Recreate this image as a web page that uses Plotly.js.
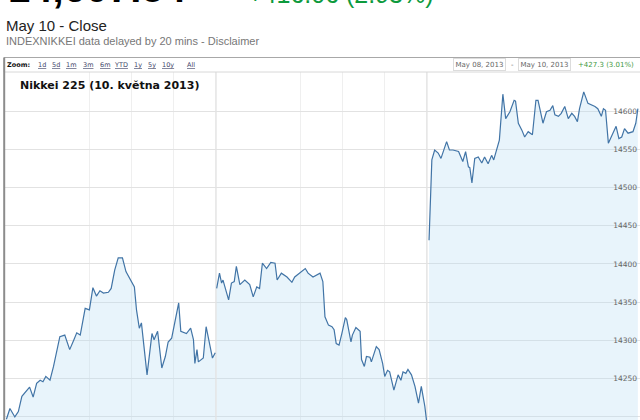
<!DOCTYPE html>
<html>
<head>
<meta charset="utf-8">
<script src="https://cdn.plot.ly/plotly-3.0.1.min.js"></script>
<style>html,body{margin:0;padding:0;background:#fff;}#chart{width:640px;height:420px;}</style>
</head>
<body>
<div id="chart"></div>
<script>
// ---- data (trading minutes from open, index value) ----
const dayLabels = ["May 08", "May 09", "May 10"];
const day1Min = [2,7,14,19,24,28,35,40,45,50,54,58,64,69,73,78,85,92,98,102,107,111,114,120,125,130,135,140,147,151,156,161,167,172,178,184,187,191,194,198,202,209,212,217,223,228,232,237,242,247,250,258,264,268,270,273,275,280,282,286,291,295,299];
const day1Val = [14197,14211,14200,14207,14227,14231,14239,14226,14244,14248,14246,14253,14248,14266,14283,14305,14307,14288,14301,14310,14307,14327,14342,14340,14369,14358,14365,14362,14363,14368,14392,14408,14408,14390,14379,14370,14340,14316,14323,14288,14255,14309,14301,14312,14264,14279,14298,14303,14325,14349,14312,14309,14316,14301,14270,14288,14272,14275,14277,14318,14296,14277,14284];
const day2Min = [1,5,8,10,18,22,26,29,34,41,48,53,58,62,66,72,78,84,87,93,101,108,112,119,127,131,138,148,152,155,160,165,168,171,175,179,184,186,192,194,199,205,207,211,214,219,221,228,232,237,240,244,247,253,259,263,266,270,273,278,283,288,292,297,300];
const day2Val = [14368,14388,14375,14379,14353,14375,14377,14397,14373,14379,14373,14357,14370,14368,14401,14394,14402,14401,14379,14388,14383,14376,14383,14388,14394,14388,14383,14388,14377,14331,14320,14318,14314,14296,14294,14309,14330,14327,14298,14307,14317,14312,14275,14266,14279,14278,14272,14292,14288,14270,14253,14261,14259,14235,14255,14248,14259,14257,14262,14255,14240,14218,14240,14214,14191];
const day3Min = [3,7,11,16,20,23,28,32,37,45,51,55,59,61,64,68,73,78,82,87,92,95,99,103,108,112,118,124,126,130,135,139,144,150,155,158,165,170,175,179,182,187,191,196,201,206,210,214,217,223,229,234,239,243,248,251,254,258,263,269,273,277,281,286,293,297,300];
const day3Val = [14431,14536,14549,14545,14538,14546,14560,14549,14549,14547,14534,14547,14527,14526,14506,14538,14540,14532,14540,14531,14542,14536,14551,14562,14622,14590,14599,14614,14613,14584,14575,14566,14573,14569,14614,14614,14584,14599,14601,14607,14595,14593,14597,14606,14590,14597,14593,14586,14603,14625,14610,14608,14606,14603,14593,14603,14601,14558,14569,14580,14564,14566,14577,14571,14573,14584,14603];
const yTicks = [14200,14250,14300,14350,14400,14450,14500,14550,14600,14650];
const yTickText = ["14200","14250","14300","14350","14400","14450","14500","14550","14600","14650"];
const zoomLinks = ["1d","5d","1m","3m","6m","YTD","1y","5y","10y","All"];
const headPrice = "14,607.54";
const headChange = "+416.06 (2.93%)";
const rangeFrom = "May 08, 2013", rangeTo = "May 10, 2013", rangeChange = "+427.3 (3.01%)";
const chartTitle = "Nikkei 225 (10. května 2013)";

// ---- build ----
const HOURS_PER_DAY = 5;
const days = [[day1Min, day1Val],[day2Min, day2Val],[day3Min, day3Val]];
const traces = days.map((d, i) => ({
  type: 'scatter', mode: 'lines', name: dayLabels[i],
  x: d[0].map(m => i * HOURS_PER_DAY + m / 60),
  y: d[1],
  line: {color: '#4174a6', width: 1.2},
  fill: 'tozeroy', fillcolor: 'rgba(178,218,243,0.30)',
  hoverinfo: 'skip'
}));

const L = 5, W = 635, T = 72, H = 348;
const px = v => (v - L) / W;          // pixel x -> paper x
const py = v => (420 - v) / H;        // pixel y -> paper y

const ann = [];
function A(o) { ann.push(Object.assign({xref: 'paper', yref: 'paper', showarrow: false, yanchor: 'middle'}, o)); }
A({text: '<b>' + headPrice + '</b>', x: px(6), y: py(-12), xanchor: 'left',
  font: {family: 'Liberation Sans, Arial', size: 40, color: '#000'}});
A({text: headChange, x: px(246), y: py(-6), xanchor: 'left',
  font: {family: 'Liberation Sans, Arial', size: 25, color: '#0d9a3c'}});
A({text: 'May 10 - Close', x: px(4), y: py(25), xanchor: 'left',
  font: {family: 'Liberation Sans, Arial', size: 15, color: '#222'}});
A({text: 'INDEXNIKKEI data delayed by 20 mins - Disclaimer', x: px(4), y: py(40.5), xanchor: 'left',
  font: {family: 'Liberation Sans, Arial', size: 11, color: '#777'}});
A({text: '<b>Zoom:</b>', x: px(18.5), y: py(65), xanchor: 'center',
  font: {family: 'DejaVu Sans', size: 6.5, color: '#111'}});
const linkCenters = [42,56,70.5,88,105,121,137.5,151.5,168,190.5];
zoomLinks.forEach((t, i) => A({text: '<u>' + t + '</u>', x: px(linkCenters[i]), y: py(65), xanchor: 'center',
  font: {family: 'DejaVu Sans', size: 6.5, color: '#44476a'}}));
A({text: rangeFrom, x: px(479.5), y: py(65), xanchor: 'center', bordercolor: '#dcdcdc', borderwidth: 1, borderpad: 1.5, bgcolor: '#fff',
  font: {family: 'DejaVu Sans', size: 7, color: '#666'}});
A({text: '-', x: px(512), y: py(65), xanchor: 'center',
  font: {family: 'DejaVu Sans', size: 7, color: '#666'}});
A({text: rangeTo, x: px(544.5), y: py(65), xanchor: 'center', bordercolor: '#dcdcdc', borderwidth: 1, borderpad: 1.5, bgcolor: '#fff',
  font: {family: 'DejaVu Sans', size: 7, color: '#666'}});
A({text: rangeChange, x: px(606), y: py(65), xanchor: 'center',
  font: {family: 'DejaVu Sans', size: 7, color: '#3f9a3f'}});
A({text: '<b>' + chartTitle + '</b>', x: px(18), y: py(85.5), xanchor: 'left',
  font: {family: 'DejaVu Sans', size: 11, color: '#111'}});

const shapes = [];
[1, 2].forEach(i => shapes.push({type: 'line', xref: 'x', yref: 'paper', x0: i * HOURS_PER_DAY, x1: i * HOURS_PER_DAY, y0: 0, y1: 1,
  line: {color: '#d6d6d6', width: 1}, layer: 'below'}));
shapes.push({type: 'rect', xref: 'paper', yref: 'paper', x0: px(4), x1: px(642), y0: py(72), y1: py(57.5),
  fillcolor: '#fff', line: {color: '#d8d8d8', width: 1}, layer: 'above'});
shapes.push({type: 'line', xref: 'paper', yref: 'paper', x0: px(4), x1: px(642), y0: py(57.5), y1: py(57.5),
  line: {color: '#a8a8a8', width: 1}, layer: 'above'});
shapes.push({type: 'line', xref: 'paper', yref: 'paper', x0: px(4.2), x1: px(4.2), y0: py(57.5), y1: py(421),
  line: {color: '#8c8c8c', width: 2}, layer: 'above'});

const layout = {
  width: 640, height: 420,
  margin: {l: L, r: 0, t: T, b: 0, pad: 0},
  paper_bgcolor: '#fff', plot_bgcolor: '#fff',
  showlegend: false, hovermode: false,
  xaxis: {range: [0, 15.05], tickvals: [2,3,4,7,8,9], showticklabels: false, ticks: '',
    showgrid: true, gridcolor: '#efefef', gridwidth: 1, zeroline: false, showline: false, fixedrange: true},
  yaxis: {range: [14196, 14651], side: 'right', ticklabelposition: 'inside', tickvals: yTicks, ticktext: yTickText, ticks: '',
    showgrid: true, gridcolor: '#e2e2e2', gridwidth: 1, zeroline: false, showline: false,
    tickfont: {family: 'DejaVu Sans', size: 7.5, color: '#666'}, fixedrange: true},
  annotations: ann,
  shapes: shapes
};

Plotly.newPlot('chart', traces, layout, {displayModeBar: false, staticPlot: true});
</script>
</body>
</html>
